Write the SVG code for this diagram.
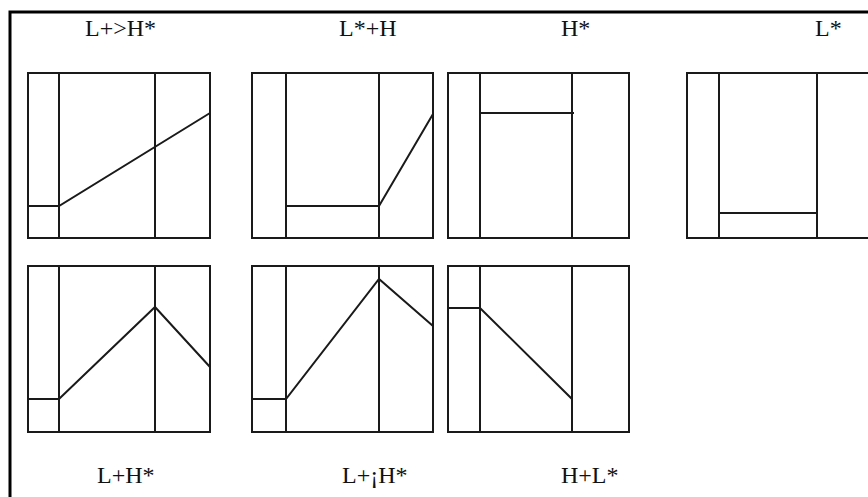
<svg xmlns="http://www.w3.org/2000/svg" width="868" height="497" viewBox="0 0 868 497">
<style>
.fr{fill:none;stroke:#000;stroke-width:3}
.bx{fill:none;stroke:#1a1a1a;stroke-width:2}
.ln{fill:none;stroke:#1a1a1a;stroke-width:2;stroke-linejoin:miter}
.lb{font-family:"Liberation Serif","Times New Roman",serif;font-size:24px;fill:#111}
</style>
<rect width="868" height="497" fill="#fff"/>
<path class="fr" d="M10,497 V12 H868"/>
<g id="labels">
<text class="lb" x="85" y="36">L+&gt;H*</text>
<text class="lb" x="339" y="36">L*+H</text>
<text class="lb" x="561" y="36">H*</text>
<text class="lb" x="815" y="36">L*</text>
<text class="lb" x="97" y="483">L+H*</text>
<text class="lb" x="342" y="483">L+¡H*</text>
<text class="lb" x="561" y="483">H+L*</text>
</g>
<g id="box-LgtH">
<rect class="bx" x="28" y="73" width="182" height="165"/>
<line class="bx" x1="59" y1="73" x2="59" y2="238"/>
<line class="bx" x1="155" y1="73" x2="155" y2="238"/>
<polyline class="ln" points="28,206 59,206 210,113"/>
</g>
<g id="box-LsH">
<rect class="bx" x="252" y="73" width="181" height="165"/>
<line class="bx" x1="286" y1="73" x2="286" y2="238"/>
<line class="bx" x1="379" y1="73" x2="379" y2="238"/>
<polyline class="ln" points="286,206 379,206 433,114"/>
</g>
<g id="box-Hs">
<rect class="bx" x="448" y="73" width="181" height="165"/>
<line class="bx" x1="480" y1="73" x2="480" y2="238"/>
<line class="bx" x1="572" y1="73" x2="572" y2="238"/>
<line class="ln" x1="480" y1="113" x2="574" y2="113"/>
</g>
<g id="box-Ls">
<rect class="bx" x="687" y="73" width="190" height="165"/>
<line class="bx" x1="719" y1="73" x2="719" y2="238"/>
<line class="bx" x1="817" y1="73" x2="817" y2="238"/>
<line class="ln" x1="719" y1="213" x2="817" y2="213"/>
</g>
<g id="box-LHs">
<rect class="bx" x="28" y="266" width="182" height="166"/>
<line class="bx" x1="59" y1="266" x2="59" y2="432"/>
<line class="bx" x1="155" y1="266" x2="155" y2="432"/>
<polyline class="ln" points="28,399 59,399 155,307 210,367"/>
</g>
<g id="box-LiHs">
<rect class="bx" x="252" y="266" width="181" height="166"/>
<line class="bx" x1="286" y1="266" x2="286" y2="432"/>
<line class="bx" x1="379" y1="266" x2="379" y2="432"/>
<polyline class="ln" points="252,399 286,399 379,279 433,326"/>
</g>
<g id="box-HLs">
<rect class="bx" x="448" y="266" width="181" height="166"/>
<line class="bx" x1="480" y1="266" x2="480" y2="432"/>
<line class="bx" x1="572" y1="266" x2="572" y2="432"/>
<polyline class="ln" points="448,308 480,308 572,399"/>
</g>
<g id="connectors"/>
</svg>
